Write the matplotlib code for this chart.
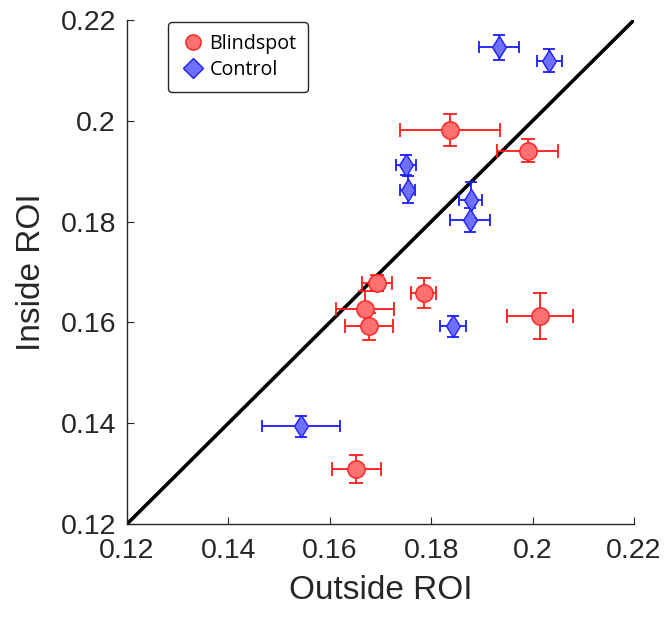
import matplotlib
matplotlib.use("Agg")
import matplotlib.pyplot as plt
from matplotlib.path import Path
import numpy as np

plt.rcParams['font.family'] = ['Liberation Sans', 'DejaVu Sans']

# Blindspot (red circles)
bs_x = [0.1837, 0.1990, 0.1693, 0.1785, 0.1670, 0.1677, 0.2015, 0.1652]
bs_y = [0.1982, 0.1941, 0.1678, 0.1659, 0.1627, 0.1592, 0.1613, 0.1309]
bs_xerr = [0.0098, 0.0061, 0.0030, 0.0025, 0.0057, 0.0048, 0.0065, 0.0048]
bs_yerr = [0.0032, 0.0023, 0.0016, 0.0030, 0.0035, 0.0027, 0.0045, 0.0028]

# Control (blue diamonds)
ct_x = [0.1934, 0.2033, 0.1750, 0.1754, 0.1878, 0.1876, 0.1843, 0.1543]
ct_y = [0.2146, 0.2119, 0.1913, 0.1863, 0.1843, 0.1803, 0.1592, 0.1394]
ct_xerr = [0.0039, 0.0025, 0.0020, 0.0015, 0.0023, 0.0039, 0.0025, 0.0077]
ct_yerr = [0.0025, 0.0023, 0.0020, 0.0027, 0.0035, 0.0023, 0.0021, 0.0021]

ticks = [0.12, 0.14, 0.16, 0.18, 0.2, 0.22]
tick_labels = ['0.12', '0.14', '0.16', '0.18', '0.2', '0.22']

diamond = Path([(0, 1), (0.62, 0), (0, -1), (-0.62, 0), (0, 1)],
               [Path.MOVETO, Path.LINETO, Path.LINETO, Path.LINETO, Path.CLOSEPOLY])

fig = plt.figure(figsize=(6.67, 6.19), dpi=100)
ax = fig.add_axes([127/667, 1-524/619, (634-127)/667, (524-20)/619])

ax.plot([0.12, 0.22], [0.12, 0.22], color='black', lw=2.6, zorder=1)

ax.errorbar(bs_x, bs_y, xerr=bs_xerr, yerr=bs_yerr, fmt='none', ecolor='#ff1a1a',
            elinewidth=1.3, capsize=5, capthick=1.3, zorder=2)
ax.plot(bs_x, bs_y, 'o', ms=12.5, mfc='#ff7070', mec='#ff2020', mew=1.0,
        linestyle='none', zorder=3)

ax.errorbar(ct_x, ct_y, xerr=ct_xerr, yerr=ct_yerr, fmt='none', ecolor='#1a1aff',
            elinewidth=1.3, capsize=4.5, capthick=1.3, zorder=2)
ax.plot(ct_x, ct_y, marker=diamond, ms=16, mfc='#7070ff', mec='#2020ff', mew=1.0,
        linestyle='none', zorder=3)

# legend proxies
ax.plot([], [], 'o', ms=11, mfc='#ff7070', mec='#ff2020', mew=1.0,
        linestyle='none', label='Blindspot')
ax.plot([], [], 'D', ms=10, mfc='#7070ff', mec='#2020ff', mew=1.0,
        linestyle='none', label='Control')

ax.set_xlim(0.12, 0.22)
ax.set_ylim(0.12, 0.22)
ax.set_xticks(ticks)
ax.set_xticklabels(tick_labels)
ax.set_yticks(ticks)
ax.set_yticklabels(tick_labels)
ax.tick_params(direction='in', length=5, labelsize=20.5, colors='#262626')
ax.tick_params(axis='x', pad=10)
ax.tick_params(axis='y', pad=8)
for s in ['top', 'right']:
    ax.spines[s].set_visible(False)
for s in ['left', 'bottom']:
    ax.spines[s].set_color('#262626')
    ax.spines[s].set_linewidth(1.0)

ax.set_xlabel('Outside ROI', fontsize=24, color='#262626', labelpad=8)
ax.set_ylabel('Inside ROI', fontsize=24, color='#262626', labelpad=10)

leg = ax.legend(loc='upper left', bbox_to_anchor=(168/667, 1-22/619),
                bbox_transform=fig.transFigure, frameon=True,
                prop={'family': ['Open Sans', 'DejaVu Sans'], 'size': 14.2},
                fancybox=True, edgecolor='#262626', handletextpad=0.2,
                handlelength=1.3, borderpad=0.6, labelspacing=0.3,
                borderaxespad=0)
leg.get_frame().set_linewidth(1.0)
leg.get_frame().set_alpha(1)

fig.savefig('out.png', dpi=100)
